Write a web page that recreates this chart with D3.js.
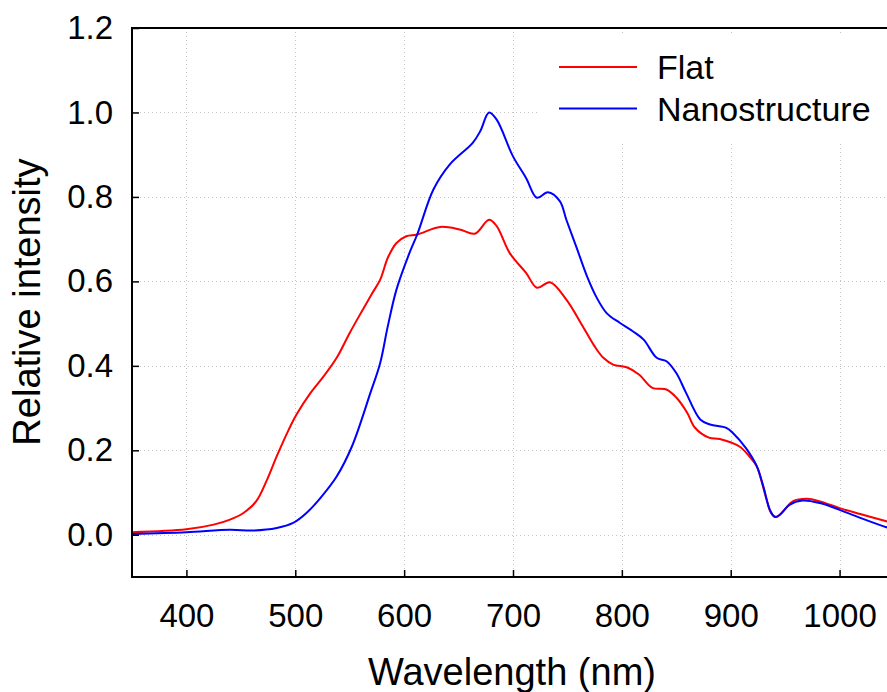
<!DOCTYPE html>
<html>
<head>
<meta charset="utf-8">
<script src="https://cdn.jsdelivr.net/npm/d3@7"></script>
<style>
  html, body { margin: 0; padding: 0; background: #fff; overflow: hidden; }
  svg { display: block; font-family: "Liberation Sans", Arial, sans-serif; }
</style>
</head>
<body>
<div id="chart"></div>
<script>
// Data
const flatWavelength = [350, 400, 425, 440, 452, 464, 474, 483, 494, 501, 514, 526, 538, 550, 562, 570, 578, 585, 593, 602, 612, 633, 651, 665, 678, 685, 697, 712, 722, 734, 749, 764, 775, 783, 792, 805, 816, 828, 841, 850, 860, 867, 880, 890, 908, 917, 924, 928, 933, 937, 942, 948, 957, 970, 982, 1000, 1019, 1043, 1050];
const flatIntensity = [0.006, 0.013, 0.024, 0.036, 0.051, 0.079, 0.13, 0.186, 0.249, 0.284, 0.336, 0.375, 0.419, 0.478, 0.533, 0.569, 0.604, 0.656, 0.691, 0.707, 0.711, 0.729, 0.723, 0.713, 0.746, 0.731, 0.667, 0.62, 0.585, 0.598, 0.557, 0.494, 0.446, 0.419, 0.403, 0.396, 0.379, 0.348, 0.344, 0.325, 0.289, 0.254, 0.23, 0.227, 0.209, 0.186, 0.162, 0.13, 0.083, 0.052, 0.042, 0.055, 0.079, 0.085, 0.079, 0.063, 0.049, 0.032, 0.027];

const nanoWavelength = [350, 400, 440, 461, 483, 498, 510, 523, 538, 552, 569, 578, 585, 593, 605, 612, 627, 642, 663, 670, 678, 685, 700, 712, 722, 732, 743, 749, 758, 768, 777, 786, 798, 810, 820, 832, 841, 850, 859, 872, 881, 896, 902, 914, 924, 930, 936, 940.5, 945, 954, 966, 982, 1000, 1019, 1043, 1050];
const nanoIntensity = [0.002, 0.006, 0.012, 0.01, 0.016, 0.028, 0.051, 0.087, 0.138, 0.209, 0.336, 0.407, 0.494, 0.581, 0.668, 0.711, 0.818, 0.877, 0.928, 0.956, 1.0, 0.983, 0.896, 0.845, 0.798, 0.811, 0.79, 0.746, 0.683, 0.612, 0.561, 0.525, 0.502, 0.482, 0.462, 0.419, 0.411, 0.383, 0.336, 0.273, 0.261, 0.253, 0.241, 0.205, 0.162, 0.114, 0.059, 0.042, 0.047, 0.071, 0.081, 0.075, 0.059, 0.04, 0.018, 0.014];

const seriesNames = ["Flat", "Nanostructure"];
const seriesColors = ["#ff0000", "#0000ff"];
const xTicks = [400, 500, 600, 700, 800, 900, 1000];
const yTicks = [0, 0.2, 0.4, 0.6, 0.8, 1.0, 1.2];

const series = [
  { name: seriesNames[0], color: seriesColors[0], values: flatWavelength.map((w, i) => ({ x: w, y: flatIntensity[i] })) },
  { name: seriesNames[1], color: seriesColors[1], values: nanoWavelength.map((w, i) => ({ x: w, y: nanoIntensity[i] })) }
];

// Dimensions
const dimensions = {
  width: 887,
  height: 692,
  margin: { top: 28, left: 132, right: 894, bottom: 577 }
};

const svg = d3.select("#chart")
  .append("svg")
  .attr("width", dimensions.width)
  .attr("height", dimensions.height);

// Scales
const xScale = d3.scaleLinear()
  .domain([350, 1050])
  .range([dimensions.margin.left, dimensions.margin.right]);

const yScale = d3.scaleLinear()
  .domain([-0.1, 1.2])
  .range([dimensions.margin.bottom, dimensions.margin.top]);

// Grid
const grid = svg.append("g")
  .attr("stroke", "#c4c4c4")
  .attr("stroke-width", 1)
  .attr("stroke-dasharray", "1,3");

grid.selectAll(".vgrid")
  .data(xTicks)
  .join("line")
  .attr("class", "vgrid")
  .attr("x1", d => Math.round(xScale(d)) + 0.5)
  .attr("x2", d => Math.round(xScale(d)) + 0.5)
  .attr("y1", yScale.range()[0])
  .attr("y2", yScale.range()[1]);

grid.selectAll(".hgrid")
  .data(yTicks)
  .join("line")
  .attr("class", "hgrid")
  .attr("x1", xScale.range()[0])
  .attr("x2", xScale.range()[1])
  .attr("y1", d => Math.round(yScale(d)) + 0.5)
  .attr("y2", d => Math.round(yScale(d)) + 0.5);

// Lines
const line = d3.line()
  .x(d => xScale(d.x))
  .y(d => yScale(d.y))
  .curve(d3.curveCatmullRom.alpha(0.5));

svg.append("g")
  .selectAll("path")
  .data(series)
  .join("path")
  .attr("fill", "none")
  .attr("stroke", d => d.color)
  .attr("stroke-width", 2)
  .attr("d", d => line(d.values));

// Axes
const xAxis = d3.axisBottom(xScale)
  .tickValues(xTicks)
  .tickFormat(d3.format("d"))
  .tickSizeInner(-7)
  .tickSizeOuter(0)
  .tickPadding(27);

svg.append("g")
  .attr("transform", `translate(0, ${dimensions.margin.bottom})`)
  .call(xAxis)
  .call(g => g.select(".domain").remove())
  .call(g => g.selectAll("line").attr("stroke", "#000").attr("stroke-width", 1.5))
  .call(g => g.selectAll("text").attr("fill", "#000").style("font-size", "33px")
    .style("font-family", "'Liberation Sans', Arial, sans-serif"));

const yAxis = d3.axisLeft(yScale)
  .tickValues(yTicks)
  .tickFormat(d3.format(".1f"))
  .tickSizeInner(-7)
  .tickSizeOuter(0)
  .tickPadding(19);

svg.append("g")
  .attr("transform", `translate(${dimensions.margin.left}, 0)`)
  .call(yAxis)
  .call(g => g.select(".domain").remove())
  .call(g => g.selectAll("line").attr("stroke", "#000").attr("stroke-width", 1.5))
  .call(g => g.selectAll("text").attr("fill", "#000").style("font-size", "33px")
    .style("font-family", "'Liberation Sans', Arial, sans-serif"));

// Frame (right side falls outside the window)
svg.append("rect")
  .attr("x", dimensions.margin.left)
  .attr("y", dimensions.margin.top)
  .attr("width", dimensions.margin.right - dimensions.margin.left)
  .attr("height", dimensions.margin.bottom - dimensions.margin.top)
  .attr("fill", "none")
  .attr("stroke", "#000")
  .attr("stroke-width", 2);

// Axis titles
svg.append("text")
  .attr("x", 512)
  .attr("y", 685)
  .attr("text-anchor", "middle")
  .style("font-size", "38px")
  .text("Wavelength (nm)");

svg.append("text")
  .attr("transform", "translate(40, 302) rotate(-90)")
  .attr("text-anchor", "middle")
  .style("font-size", "38px")
  .text("Relative intensity");

// Legend
const legend = svg.append("g");

legend.append("rect")
  .attr("x", 540)
  .attr("y", 33)
  .attr("width", 360)
  .attr("height", 110)
  .attr("fill", "#fff");

const legendItems = legend.selectAll(".item")
  .data(series)
  .join("g")
  .attr("class", "item")
  .attr("transform", (d, i) => `translate(0, ${67 + i * 41.5})`);

legendItems.append("line")
  .attr("x1", 559)
  .attr("x2", 637)
  .attr("stroke", d => d.color)
  .attr("stroke-width", 2);

legendItems.append("text")
  .attr("x", 657)
  .attr("y", 12)
  .style("font-size", "34px")
  .text(d => d.name);
</script>
</body>
</html>
